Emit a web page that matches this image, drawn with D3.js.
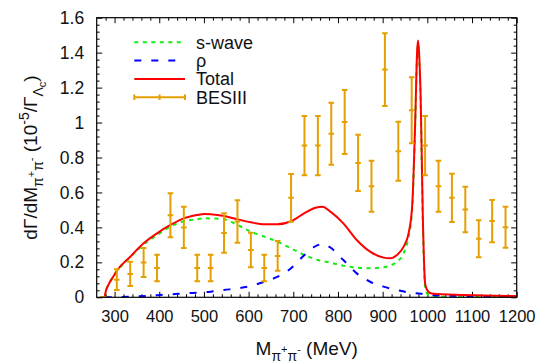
<!DOCTYPE html>
<html>
<head>
<meta charset="utf-8">
<script src="https://cdn.jsdelivr.net/npm/d3@7"></script>
<style>
  body { margin: 0; background: #fff; }
  svg { font-family: "Liberation Sans", Arial, sans-serif; }
</style>
</head>
<body>
<div id="chart"></div>
<script>
// ---- data ----
const xTicks = [300, 400, 500, 600, 700, 800, 900, 1000, 1100, 1200];
const yTicks = [0, 0.2, 0.4, 0.6, 0.8, 1, 1.2, 1.4, 1.6];

// model curves (MeV, value)
const swaveX = [278, 280, 286, 297, 305, 335, 365, 395, 425, 455, 485, 500, 545, 575, 605, 635, 665, 695, 725, 755, 783, 805, 827, 872, 902, 932, 947, 958, 966, 973, 977, 979, 981, 985, 990, 995, 1000, 1010, 1200];
const swaveY = [0, 0.03, 0.07, 0.118, 0.148, 0.228, 0.302, 0.356, 0.405, 0.435, 0.447, 0.452, 0.446, 0.414, 0.375, 0.347, 0.318, 0.28, 0.242, 0.213, 0.198, 0.185, 0.175, 0.166, 0.172, 0.204, 0.252, 0.347, 0.5, 1.0, 1.38, 1.45, 1.4, 1.12, 0.42, 0.06, 0.02, 0.004, 0];

const rhoX = [278, 335, 395, 455, 515, 545, 575, 605, 635, 665, 695, 725, 752, 768, 783, 812, 842, 872, 902, 932, 962, 992, 1021, 1100, 1200];
const rhoY = [0, 0.003, 0.012, 0.022, 0.032, 0.042, 0.051, 0.065, 0.089, 0.118, 0.166, 0.242, 0.296, 0.305, 0.285, 0.213, 0.137, 0.089, 0.061, 0.042, 0.026, 0.019, 0.011, 0.007, 0.005];

const totalX = [278, 280, 286, 297, 305, 335, 365, 395, 425, 455, 485, 500, 515, 545, 575, 605, 635, 665, 695, 725, 750, 765, 783, 812, 842, 872, 902, 917, 932, 947, 958, 966, 973, 977, 979, 981, 985, 990, 995, 1000, 1010, 1080, 1200];
const totalY = [0, 0.03, 0.07, 0.118, 0.152, 0.232, 0.309, 0.366, 0.414, 0.452, 0.471, 0.477, 0.475, 0.465, 0.446, 0.429, 0.418, 0.418, 0.435, 0.482, 0.512, 0.518, 0.49, 0.423, 0.328, 0.261, 0.227, 0.223, 0.242, 0.29, 0.366, 0.52, 1.02, 1.4, 1.47, 1.42, 1.15, 0.45, 0.08, 0.04, 0.022, 0.013, 0.007];

// BESIII points
const besX = [275, 305, 335, 365, 395, 425, 455, 485, 515, 545, 575, 605, 635, 665, 695, 725, 755, 785, 815, 845, 875, 905, 935, 965, 995, 1025, 1055, 1085, 1115, 1145, 1175];
const besY = [0, 0.101, 0.134, 0.199, 0.168, 0.469, 0.4, 0.168, 0.168, 0.368, 0.434, 0.271, 0.168, 0.237, 0.569, 0.868, 0.868, 0.936, 1.003, 0.769, 0.636, 1.303, 0.836, 1.07, 0.868, 0.636, 0.569, 0.502, 0.335, 0.436, 0.401];
const besErr = [0, 0.059, 0.07, 0.083, 0.076, 0.126, 0.118, 0.076, 0.076, 0.113, 0.122, 0.099, 0.076, 0.085, 0.137, 0.17, 0.17, 0.178, 0.183, 0.161, 0.146, 0.208, 0.169, 0.189, 0.17, 0.146, 0.138, 0.13, 0.106, 0.121, 0.117];

const legendNames = ["s-wave", "\u03c1", "Total", "BESIII"];

// ---- layout ----
const W = 544, H = 363;
const margin = { top: 17.7, left: 96.7, right: 27.3, bottom: 65.7 };
const iw = W - margin.left - margin.right;
const ih = H - margin.top - margin.bottom;

const green = "#11ee11", blue = "#0000ff", red = "#ff0000", orange = "#e69f00";

const svg = d3.select("#chart").append("svg").attr("width", W).attr("height", H);
const g = svg.append("g").attr("transform", `translate(${margin.left},${margin.top})`);

const x = d3.scaleLinear().domain([260, 1200]).range([0, iw]);
const y = d3.scaleLinear().domain([0, 1.6]).range([ih, 0]);

svg.append("defs").append("clipPath").attr("id", "clip")
  .append("rect").attr("width", iw).attr("height", ih);

// axes: major + minor ticks, inward, mirrored
const fmtY = d => String(+d.toFixed(1));
const minorX = d3.range(280, 1200, 20).filter(v => v % 100 !== 0);
const minorY = d3.range(0, 1.6001, 0.04).filter(v => Math.abs(v * 5 - Math.round(v * 5)) > 1e-6);

function styleAxis(sel) {
  sel.select(".domain").remove();
  sel.selectAll("line").attr("stroke", "#000").attr("stroke-width", 1);
  sel.selectAll("text").attr("fill", "#111").style("font-size", "16.5px");
}

g.append("g").attr("transform", `translate(0,${ih})`)
  .call(d3.axisBottom(x).tickValues(xTicks).tickSize(-5.5).tickPadding(13).tickFormat(d3.format("d")))
  .call(styleAxis);
g.append("g").attr("transform", `translate(0,${ih})`)
  .call(d3.axisBottom(x).tickValues(minorX).tickSize(-3).tickFormat(""))
  .call(styleAxis);
g.append("g")
  .call(d3.axisTop(x).tickValues(xTicks).tickSize(-5.5).tickFormat(""))
  .call(styleAxis);
g.append("g")
  .call(d3.axisTop(x).tickValues(minorX).tickSize(-3).tickFormat(""))
  .call(styleAxis);

g.append("g")
  .call(d3.axisLeft(y).tickValues(yTicks).tickSize(-5.5).tickPadding(12.5).tickFormat(fmtY))
  .call(styleAxis)
  .selectAll("text").style("font-size", "17.5px");
g.append("g")
  .call(d3.axisLeft(y).tickValues(minorY).tickSize(-3).tickFormat(""))
  .call(styleAxis);
g.append("g").attr("transform", `translate(${iw},0)`)
  .call(d3.axisRight(y).tickValues(yTicks).tickSize(-5.5).tickFormat(""))
  .call(styleAxis);
g.append("g").attr("transform", `translate(${iw},0)`)
  .call(d3.axisRight(y).tickValues(minorY).tickSize(-3).tickFormat(""))
  .call(styleAxis);

// curves
const line = d3.line().x(d => x(d[0])).y(d => y(d[1])).curve(d3.curveMonotoneX);
const plot = g.append("g").attr("clip-path", "url(#clip)");

plot.append("path").datum(d3.zip(swaveX, swaveY)).attr("d", line)
  .attr("fill", "none").attr("stroke", green).attr("stroke-width", 2).attr("stroke-dasharray", "4,4.5");
plot.append("path").datum(d3.zip(rhoX, rhoY)).attr("d", line)
  .attr("fill", "none").attr("stroke", blue).attr("stroke-width", 2).attr("stroke-dasharray", "7,10");
plot.append("path").datum(d3.zip(totalX, totalY)).attr("d", line)
  .attr("fill", "none").attr("stroke", red).attr("stroke-width", 2);

// error bars
const cap = 2.8;
const pts = plot.selectAll(".pt").data(d3.range(besX.length)).enter().append("g")
  .attr("stroke", orange).attr("stroke-width", 2).attr("fill", "none");
pts.append("line")
  .attr("x1", i => x(besX[i])).attr("x2", i => x(besX[i]))
  .attr("y1", i => y(besY[i] - besErr[i])).attr("y2", i => y(besY[i] + besErr[i]));
pts.append("line")
  .attr("x1", i => x(besX[i]) - cap).attr("x2", i => x(besX[i]) + cap)
  .attr("y1", i => y(besY[i] - besErr[i])).attr("y2", i => y(besY[i] - besErr[i]));
pts.append("line")
  .attr("x1", i => x(besX[i]) - cap).attr("x2", i => x(besX[i]) + cap)
  .attr("y1", i => y(besY[i] + besErr[i])).attr("y2", i => y(besY[i] + besErr[i]));
pts.append("line")
  .attr("x1", i => x(besX[i]) - cap).attr("x2", i => x(besX[i]) + cap)
  .attr("y1", i => y(besY[i])).attr("y2", i => y(besY[i]));

// frame
g.append("rect").attr("width", iw).attr("height", ih)
  .attr("fill", "none").attr("stroke", "#000").attr("stroke-width", 1.2);

// legend
const leg = g.append("g").attr("transform", "translate(37.6,24.6)");
const rowH = 18.3;
const legStyles = [
  { c: green, dash: "4,4.5" },
  { c: blue, dash: "7,10" },
  { c: red, dash: null },
  { c: orange, dash: null }
];
legendNames.forEach((name, i) => {
  const r = leg.append("g").attr("transform", `translate(0,${i * rowH})`);
  r.append("line").attr("x1", 0).attr("x2", 50.7)
    .attr("stroke", legStyles[i].c).attr("stroke-width", 2)
    .attr("stroke-dasharray", legStyles[i].dash);
  if (i === 3) {
    [0, 25.3, 50.7].forEach(cx => r.append("line")
      .attr("x1", cx).attr("x2", cx).attr("y1", -cap).attr("y2", cap)
      .attr("stroke", orange).attr("stroke-width", 2));
  }
  r.append("text").attr("x", 61.7).attr("dy", "0.36em")
    .style("font-size", "18px").attr("fill", "#111").text(name);
});

// axis titles
const xt = svg.append("text")
  .attr("x", margin.left + iw / 2).attr("y", 355)
  .attr("text-anchor", "middle").style("font-size", "19px").attr("fill", "#111");
xt.append("tspan").text("M");
xt.append("tspan").attr("dy", 6).style("font-size", "14px").text("\u03c0");
xt.append("tspan").attr("dy", -8).style("font-size", "11px").text("+");
xt.append("tspan").attr("dy", 8).style("font-size", "14px").text("\u03c0");
xt.append("tspan").attr("dy", -8).style("font-size", "11px").text("-");
xt.append("tspan").attr("dy", 2).text(" (MeV)");

const yt = svg.append("text")
  .attr("transform", `translate(37,${margin.top + ih / 2}) rotate(-90)`)
  .attr("text-anchor", "middle").style("font-size", "19px").attr("fill", "#111");
yt.append("tspan").text("d\u0393/dM");
yt.append("tspan").attr("dy", 6).style("font-size", "14px").text("\u03c0");
yt.append("tspan").attr("dy", -8).style("font-size", "11px").text("+");
yt.append("tspan").attr("dy", 8).style("font-size", "14px").text("\u03c0");
yt.append("tspan").attr("dy", -8).style("font-size", "11px").text("-");
yt.append("tspan").attr("dy", 2).text(" (10");
yt.append("tspan").attr("dy", -8).style("font-size", "14px").text("-5");
yt.append("tspan").attr("dy", 8).text("/\u0393");
yt.append("tspan").attr("dy", 6).style("font-size", "14px").text("\u039b");
yt.append("tspan").attr("dy", 3).style("font-size", "11px").text("c");
yt.append("tspan").attr("dy", -9).text(")");
</script>
</body>
</html>
